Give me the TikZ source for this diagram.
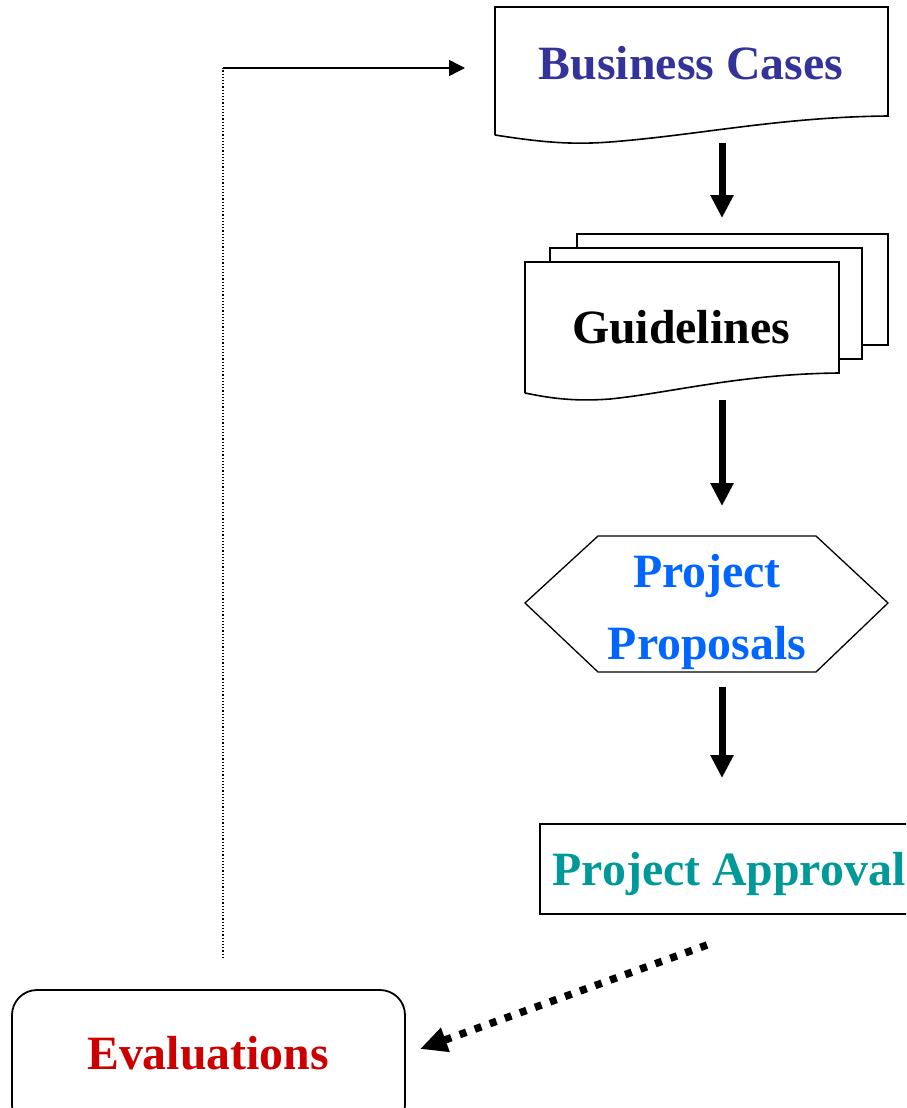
\documentclass[tikz,border=0pt]{standalone}
\usepackage{fontspec}
\setmainfont{Liberation Serif}
\usetikzlibrary{arrows.meta}
\definecolor{bcblue}{HTML}{333399}
\definecolor{ppblue}{HTML}{0066FF}
\definecolor{apteal}{HTML}{009999}
\definecolor{evred}{HTML}{CC0000}
\begin{document}
\begin{tikzpicture}[x=1pt,y=-1pt,
  shapeline/.style={draw=black, line width=1.6pt, fill=white},
  labeltext/.style={font=\fontsize{47.8}{72}\selectfont\bfseries, inner sep=0pt},
  flowarrow/.style={line width=7pt, -{Triangle[width=22pt,length=23pt]}},
  dotarrow/.style={line width=7.5pt, dash pattern=on 7pt off 9pt, -{Triangle[width=24pt,length=27pt]}},
  backarrow/.style={line width=1.5pt, -{Triangle[width=16pt,length=16pt]}}]
\clip (0,0) rectangle (906,1108);
\fill[white] (0,0) rectangle (906,1108);
% Business Cases document
\draw[shapeline] (495,135) -- (495,7) -- (888,7) -- (888,116)
  .. controls (780,117) and (700,135) .. (610,142)
  .. controls (570,145) and (540,142) .. (495,135);
\node[labeltext, text=bcblue, anchor=base] (bc) at (691,80) {Business Cases};
% Guidelines multi-document
\draw[shapeline] (577,248) -- (577,234) -- (888,234) -- (888,345) -- (862,345);
\draw[shapeline] (550,262) -- (550,248) -- (862,248) -- (862,359) -- (839,359);
\draw[shapeline] (525,393) -- (525,262) -- (839,262) -- (839,373)
  .. controls (740,374) and (670,393) .. (610,399)
  .. controls (570,402) and (545,397) .. (525,393);
\node[labeltext, anchor=base] (gl) at (681,343) {Guidelines};
% Project Proposals hexagon
\draw[shapeline, line width=1.3pt] (525,603) -- (598,536) -- (816,536) -- (888,603) -- (816,672) -- (598,672) -- cycle;
\node[labeltext, text=ppblue, align=center] (pp) at (707,612) {Project\\Proposals};
% Project Approval box
\draw[shapeline, line width=2pt] (540,824) rectangle (915,914);
\node[labeltext, text=apteal, anchor=base] (pa) at (729,885) {Project Approval};
% Evaluations rounded box
\draw[shapeline, line width=1.8pt, rounded corners=25pt] (12,990) rectangle (405,1130);
\node[labeltext, text=evred, anchor=base] (ev) at (208,1069) {Evaluations};
% connector end points
\coordinate (a1s) at (722,143);
\coordinate (a1e) at (722,218);
\coordinate (a2s) at (722,400);
\coordinate (a2e) at (722,506);
\coordinate (a3s) at (722,687);
\coordinate (a3e) at (722,778);
\coordinate (d1) at (707,945);
\coordinate (d2) at (420,1049);
\coordinate (fb1) at (223,958);
\coordinate (fb2) at (223,68);
\coordinate (fb3) at (465,68);
% connectors
\draw[flowarrow] (a1s) -- (a1e);
\draw[flowarrow] (a2s) -- (a2e);
\draw[flowarrow] (a3s) -- (a3e);
\draw[dotarrow] (d1) -- (d2);
\draw[dotted, line width=1.2pt] (fb1) -- (fb2);
\draw[backarrow] (fb2) -- (fb3);
\end{tikzpicture}
\end{document}
